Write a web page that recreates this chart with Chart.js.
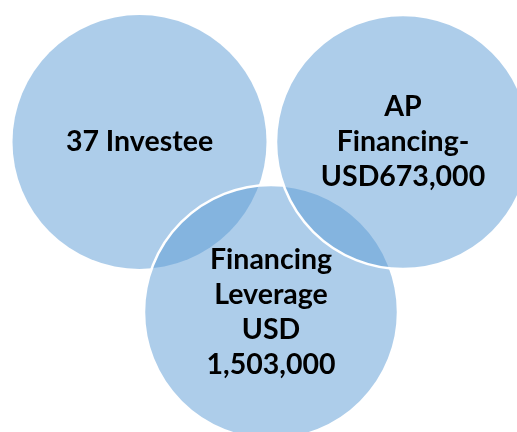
<!DOCTYPE html>
<html>
<head>
<meta charset="utf-8">
<script src="https://cdn.jsdelivr.net/npm/chart.js@4"></script>
<style>
  html, body { margin: 0; padding: 0; background: #fff; }
  #wrap { width: 517px; height: 432px; }
</style>
</head>
<body>
<div id="wrap"><canvas id="venn"></canvas></div>
<script>
// circles in drawing order: left, bottom, right
const labels = [
  ["37 Investee"],
  ["Financing", "Leverage", "USD", "1,503,000"],
  ["AP", "Financing-", "USD673,000"],
];
const centerX = [139.5, 271, 403];
const centerY = [142, 312, 142];
const radius = [127, 127, 127];
const borders = [0, 2.5, 2.5];

const labelPlugin = {
  id: "circleLabels",
  afterDatasetsDraw(chart) {
    const ctx = chart.ctx;
    const meta = chart.getDatasetMeta(0);
    ctx.save();
    ctx.fillStyle = "#000";
    ctx.font = "bold 28.5px Lato";
    ctx.textAlign = "center";
    ctx.textBaseline = "middle";
    meta.data.forEach((pt, i) => {
      const lines = labels[i];
      const lh = 35;
      const top = pt.y - (lines.length - 1) * lh / 2;
      lines.forEach((line, j) => ctx.fillText(line, pt.x, top + j * lh));
    });
    ctx.restore();
  },
};

new Chart(document.getElementById("venn"), {
  type: "bubble",
  data: {
    datasets: [{
      data: centerX.map((x, i) => ({ x: x, y: centerY[i], r: radius[i] })),
      backgroundColor: "rgba(91, 155, 213, 0.5)",
      borderColor: "#ffffff",
      borderWidth: borders,
      hoverBorderWidth: borders,
      clip: false,
    }],
  },
  options: {
    responsive: true,
    maintainAspectRatio: false,
    animation: false,
    events: [],
    layout: { padding: 0, autoPadding: false },
    plugins: { legend: { display: false }, tooltip: { enabled: false } },
    scales: {
      x: { type: "linear", min: 0, max: 517, display: false },
      y: { type: "linear", min: 0, max: 432, reverse: true, display: false },
    },
  },
  plugins: [labelPlugin],
});
</script>
</body>
</html>
